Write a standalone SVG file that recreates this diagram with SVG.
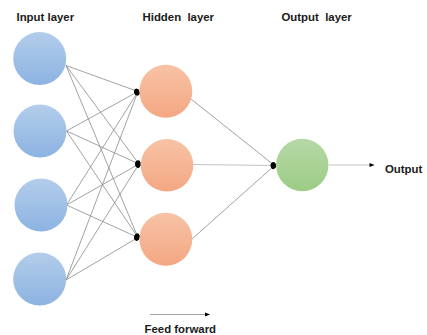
<svg xmlns="http://www.w3.org/2000/svg" width="427" height="335" viewBox="0 0 427 335">
  <style>
    .lbl { font-family: "Liberation Sans", Arial, sans-serif; font-weight: bold; font-size: 11.4px; fill: #1a1a1a; white-space: pre; }
    .edge { stroke: #8a8a8a; stroke-width: 0.8; fill: none; }
    .edge-light { stroke: #c4c4c4; stroke-width: 1; fill: none; }
    .in { fill: url(#gBlue); }
    .hid { fill: url(#gOrange); }
    .out { fill: url(#gGreen); }
  </style>
  <defs>
    <linearGradient id="gBlue" x1="0" y1="0" x2="0" y2="1">
      <stop offset="0" stop-color="#b3cdea"/>
      <stop offset="1" stop-color="#8cb3e2"/>
    </linearGradient>
    <linearGradient id="gOrange" x1="0" y1="0" x2="0" y2="1">
      <stop offset="0" stop-color="#f7c3a5"/>
      <stop offset="1" stop-color="#f4a783"/>
    </linearGradient>
    <linearGradient id="gGreen" x1="0" y1="0" x2="0" y2="1">
      <stop offset="0" stop-color="#b6d8a6"/>
      <stop offset="1" stop-color="#9ccc86"/>
    </linearGradient>
    <marker id="head" viewBox="0 0 10 10" refX="9" refY="5" markerWidth="6" markerHeight="5" markerUnits="userSpaceOnUse" orient="auto">
      <path d="M0,1 L10,5 L0,9 z" fill="#000"/>
    </marker>
    <marker id="blob" viewBox="0 0 10 10" refX="8" refY="5" markerWidth="6.5" markerHeight="5" markerUnits="userSpaceOnUse" orient="auto">
      <ellipse cx="5" cy="5" rx="5" ry="5" fill="#000"/>
    </marker>
  </defs>

  <!-- layer titles -->
  <text class="lbl" x="16.5" y="20.5">Input layer</text>
  <text class="lbl" x="142.5" y="20.5">Hidden  layer</text>
  <text class="lbl" x="281.5" y="20.5">Output  layer</text>

  <g id="connectors">
    <!-- input to hidden -->
    <path class="edge" d="M66,65.5 L138,91.5" marker-end="url(#blob)"/>
    <path class="edge" d="M66,65.5 L139,164" marker-end="url(#blob)"/>
    <path class="edge" d="M66,65.5 L138,237.5" marker-end="url(#blob)"/>
    <path class="edge" d="M66.5,131 L138,91.5" marker-end="url(#blob)"/>
    <path class="edge" d="M66.5,131 L139,164" marker-end="url(#blob)"/>
    <path class="edge" d="M66.5,131 L138,237.5" marker-end="url(#blob)"/>
    <path class="edge" d="M66.5,205 L138,91.5" marker-end="url(#blob)"/>
    <path class="edge" d="M66.5,205 L139,164" marker-end="url(#blob)"/>
    <path class="edge" d="M66.5,205 L138,237.5" marker-end="url(#blob)"/>
    <path class="edge" d="M66,280 L138,91.5" marker-end="url(#blob)"/>
    <path class="edge" d="M66,280 L139,164" marker-end="url(#blob)"/>
    <path class="edge" d="M66,280 L138,237.5" marker-end="url(#blob)"/>
    <!-- hidden to output -->
    <path class="edge" d="M191,99 L274.5,165.5" marker-end="url(#blob)"/>
    <path class="edge-light" d="M193,164.5 L274.5,165.5" marker-end="url(#blob)"/>
    <path class="edge" d="M192,239 L274.5,165.5" marker-end="url(#blob)"/>
    <!-- output arrow -->
    <path class="edge-light" d="M329,165 L374,165" marker-end="url(#head)"/>
    <!-- direction arrow -->
    <path class="edge" d="M150,314.5 L209.5,314.5" marker-end="url(#head)"/>
  </g>

  <g id="in1"><circle class="in" cx="39.7" cy="58.5" r="26.5"/></g>
  <g id="in2"><circle class="in" cx="40" cy="131" r="26.5"/></g>
  <g id="in3"><circle class="in" cx="41" cy="205" r="26.5"/></g>
  <g id="in4"><circle class="in" cx="39.7" cy="279" r="26.5"/></g>

  <g id="hid1"><circle class="hid" cx="165.8" cy="91.3" r="26.5"/></g>
  <g id="hid2"><circle class="hid" cx="167" cy="165.3" r="26.3"/></g>
  <g id="hid3"><circle class="hid" cx="165.8" cy="239.2" r="26.5"/></g>

  <g id="out1"><circle class="out" cx="302.3" cy="165" r="26.2"/></g>

  <text class="lbl" x="385" y="173">Output</text>
  <text class="lbl" x="144.5" y="332.5">Feed forward</text>
</svg>
